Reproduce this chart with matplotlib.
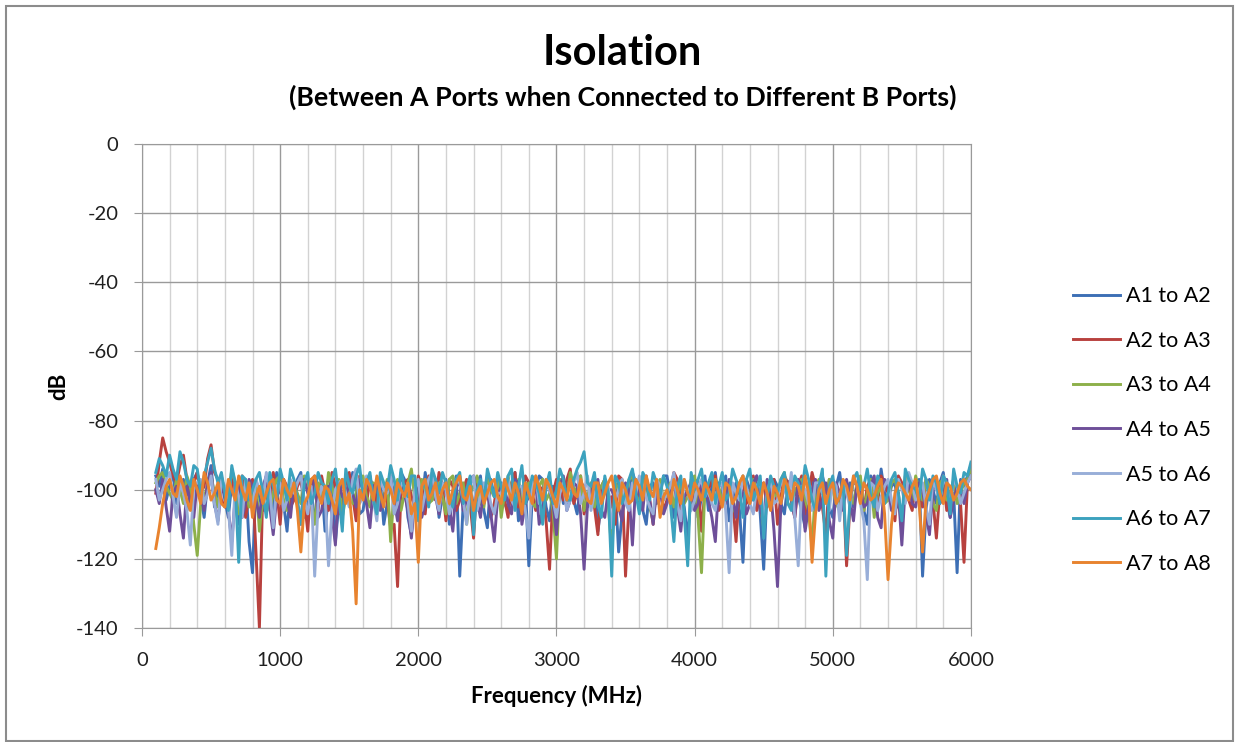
import numpy as np
import matplotlib.pyplot as plt
from matplotlib.patches import Rectangle
from matplotlib.ticker import MultipleLocator

plt.rcParams['font.family'] = ['Lato', 'DejaVu Sans']
plt.rcParams['axes.unicode_minus'] = False

# frequency sweep, MHz (100 .. 6000, 25 MHz step)
freq = np.arange(100, 6001, 25)

# isolation traces, dB
# main samples at 100, 150, ... 6000 MHz
a1_a2 = [-96, -94, -99, -104, -97, -101, -95, -108, -93, -100,
         -103, -98, -110, -97, -124, -102, -96, -106, -99, -112,
         -100, -95, -104, -109, -98, -101, -115, -97, -103, -99,
         -106, -96, -101, -110, -98, -104, -97, -113, -100, -95,
         -103, -108, -97, -101, -125, -99, -105, -96, -111, -102,
         -98, -106, -95, -103, -122, -100, -97, -109, -101, -104,
         -96, -107, -99, -102, -112, -97, -105, -118, -100, -95,
         -103, -110, -98, -101, -96, -108, -100, -114, -97, -102,
         -106, -95, -101, -109, -98, -121, -100, -96, -123, -104,
         -99, -107, -97, -102, -111, -96, -104, -100, -108, -95,
         -101, -105, -97, -110, -99, -94, -103, -98, -107, -96,
         -102, -125, -97, -104, -95, -108, -124, -99, -93]
a2_a3 = [-101, -85, -92, -98, -90, -103, -95, -99, -87, -97,
         -105, -96, -100, -108, -97, -140, -102, -95, -110, -99,
         -103, -97, -112, -100, -96, -106, -99, -104, -95, -109,
         -100, -97, -105, -99, -111, -128, -98, -102, -96, -107,
         -101, -95, -109, -99, -103, -97, -114, -100, -96, -104,
         -99, -108, -95, -102, -98, -106, -100, -123, -97, -103,
         -94, -101, -107, -99, -113, -97, -102, -96, -125, -100,
         -105, -97, -110, -99, -103, -95, -108, -101, -97, -112,
         -100, -96, -104, -99, -115, -97, -102, -106, -98, -101,
         -110, -96, -103, -99, -107, -95, -101, -113, -98, -104,
         -122, -97, -102, -99, -106, -96, -101, -109, -98, -103,
         -97, -105, -100, -114, -96, -102, -99, -121, -95]
a3_a4 = [-98, -95, -101, -97, -104, -99, -119, -102, -96, -105,
         -100, -94, -107, -99, -103, -112, -98, -101, -96, -106,
         -99, -104, -97, -110, -100, -95, -103, -108, -98, -101,
         -96, -105, -99, -102, -115, -97, -101, -94, -106, -100,
         -103, -98, -107, -96, -101, -110, -99, -104, -97, -102,
         -108, -96, -100, -103, -98, -105, -97, -101, -120, -99,
         -95, -102, -106, -98, -101, -97, -118, -100, -104, -96,
         -103, -99, -109, -97, -101, -105, -98, -102, -96, -124,
         -100, -97, -104, -99, -107, -96, -102, -100, -111, -98,
         -101, -95, -105, -99, -103, -117, -97, -102, -100, -106,
         -98, -104, -96, -101, -108, -99, -103, -97, -112, -100,
         -96, -103, -99, -106, -97, -101, -104, -98, -94]
a4_a5 = [-100, -97, -112, -99, -114, -103, -98, -106, -95, -109,
         -101, -115, -97, -104, -99, -108, -96, -113, -100, -103,
         -98, -110, -101, -96, -106, -99, -116, -102, -97, -105,
         -100, -111, -98, -103, -96, -109, -101, -114, -99, -104,
         -97, -107, -100, -112, -98, -103, -96, -108, -101, -115,
         -99, -104, -97, -110, -102, -98, -106, -100, -113, -96,
         -103, -99, -123, -101, -97, -108, -100, -105, -98, -116,
         -101, -96, -110, -99, -104, -97, -112, -100, -106, -98,
         -103, -115, -99, -97, -108, -101, -104, -96, -110, -100,
         -128, -99, -103, -97, -112, -100, -106, -98, -114, -101,
         -97, -109, -100, -104, -96, -111, -99, -103, -116, -98,
         -105, -100, -113, -97, -102, -108, -99, -104, -96]
a5_a6 = [-97, -100, -95, -108, -101, -116, -98, -104, -96, -110,
         -99, -119, -102, -97, -106, -100, -95, -111, -98, -103,
         -101, -96, -107, -125, -99, -122, -100, -97, -105, -94,
         -102, -98, -109, -100, -96, -104, -99, -112, -97, -101,
         -95, -106, -100, -103, -98, -110, -96, -102, -99, -107,
         -101, -97, -105, -99, -114, -96, -102, -100, -108, -98,
         -103, -95, -101, -106, -99, -97, -111, -100, -104, -98,
         -96, -102, -107, -99, -101, -95, -109, -100, -103, -97,
         -100, -106, -98, -124, -101, -96, -104, -99, -110, -97,
         -103, -99, -95, -122, -100, -106, -98, -102, -97, -109,
         -101, -96, -104, -126, -99, -102, -97, -107, -100, -95,
         -103, -98, -110, -100, -96, -105, -99, -101, -96]
a6_a7 = [-95, -93, -90, -97, -92, -99, -94, -96, -88, -98,
         -101, -93, -121, -97, -100, -95, -108, -99, -94, -103,
         -97, -110, -95, -101, -98, -104, -94, -112, -99, -96,
         -102, -95, -107, -98, -93, -103, -100, -96, -109, -97,
         -94, -101, -98, -105, -95, -100, -113, -97, -94, -102,
         -99, -96, -106, -93, -101, -98, -110, -95, -100, -97,
         -103, -94, -89, -99, -104, -96, -125, -98, -101, -94,
         -107, -97, -95, -102, -99, -115, -96, -122, -100, -94,
         -98, -104, -95, -101, -97, -108, -94, -100, -114, -96,
         -101, -95, -106, -98, -93, -103, -99, -125, -96, -102,
         -119, -97, -100, -94, -105, -98, -101, -95, -109, -97,
         -100, -94, -103, -98, -96, -107, -99, -95, -92]
a7_a8 = [-117, -104, -97, -102, -99, -106, -100, -95, -103, -98,
         -105, -100, -96, -103, -108, -99, -101, -97, -104, -100,
         -98, -118, -102, -96, -104, -100, -107, -97, -101, -133,
         -103, -99, -96, -105, -100, -98, -102, -107, -121, -97,
         -101, -104, -98, -100, -96, -103, -106, -99, -101, -97,
         -104, -100, -98, -107, -101, -96, -103, -99, -105, -100,
         -97, -102, -100, -104, -98, -101, -96, -106, -100, -103,
         -99, -96, -102, -108, -100, -97, -104, -101, -98, -103,
         -100, -97, -105, -99, -102, -96, -104, -100, -98, -106,
         -101, -97, -103, -99, -96, -121, -100, -104, -98, -102,
         -99, -96, -104, -100, -102, -97, -126, -101, -99, -103,
         -97, -118, -100, -96, -104, -99, -101, -97, -100]

# in-between samples at 125, 175, ... 5975 MHz
a1_a2_mid = [-99, -103, -95, -100, -106, -97, -102, -98, -105, -96,
             -108, -101, -104, -115, -98, -106, -101, -95, -104, -99,
             -97, -108, -100, -102, -112, -96, -104, -100, -95, -107,
             -99, -103, -97, -104, -101, -95, -108, -99, -105, -101,
             -97, -102, -110, -96, -104, -101, -98, -106, -97, -100,
             -104, -99, -109, -98, -102, -96, -105, -99, -97, -101,
             -103, -98, -105, -96, -104, -101, -99, -107, -103, -98,
             -106, -99, -104, -96, -102, -99, -105, -101, -108, -96,
             -99, -104, -96, -103, -106, -97, -103, -107, -99, -97,
             -104, -98, -101, -106, -99, -102, -96, -105, -99, -103,
             -98, -100, -106, -96, -104, -101, -99, -105, -100, -103,
             -97, -106, -100, -98, -103, -101, -97, -96]
a2_a3_mid = [-92, -89, -96, -93, -97, -98, -101, -91, -95, -103,
             -98, -104, -96, -102, -118, -99, -104, -100, -97, -105,
             -99, -103, -97, -106, -101, -95, -107, -98, -102, -96,
             -104, -99, -96, -103, -110, -100, -97, -105, -99, -96,
             -103, -99, -97, -106, -100, -104, -98, -102, -108, -97,
             -103, -98, -105, -96, -101, -99, -109, -101, -98, -97,
             -104, -96, -102, -105, -99, -103, -110, -97, -104, -99,
             -96, -103, -98, -106, -101, -97, -102, -104, -98, -100,
             -97, -106, -101, -103, -99, -104, -96, -100, -105, -97,
             -102, -98, -108, -96, -103, -99, -105, -97, -101, -99,
             -104, -99, -106, -97, -103, -98, -104, -96, -101, -106,
             -99, -97, -103, -100, -106, -98, -104, -98]
a3_a4_mid = [-96, -99, -103, -100, -96, -110, -104, -99, -101, -97,
             -103, -98, -100, -105, -97, -102, -106, -97, -103, -99,
             -101, -96, -104, -98, -105, -99, -97, -102, -104, -97,
             -102, -98, -104, -97, -100, -106, -98, -103, -97, -104,
             -99, -102, -97, -104, -98, -101, -96, -105, -100, -97,
             -101, -103, -97, -100, -104, -99, -103, -106, -97, -103,
             -99, -96, -102, -105, -99, -104, -98, -101, -97, -102,
             -97, -105, -99, -103, -98, -101, -104, -97, -108, -99,
             -103, -99, -101, -105, -98, -100, -97, -104, -99, -102,
             -97, -104, -100, -97, -106, -99, -101, -97, -104, -98,
             -102, -98, -106, -97, -101, -104, -98, -101, -96, -103,
             -100, -97, -104, -98, -103, -97, -101, -97]
a4_a5_mid = [-104, -105, -101, -107, -99, -108, -102, -98, -104, -100,
             -106, -102, -108, -97, -103, -99, -105, -102, -97, -108,
             -104, -97, -103, -108, -100, -107, -98, -103, -101, -97,
             -104, -99, -106, -98, -103, -97, -106, -102, -108, -97,
             -102, -98, -105, -99, -106, -97, -103, -99, -107, -102,
             -100, -107, -98, -104, -97, -110, -98, -104, -99, -106,
             -98, -107, -104, -98, -106, -100, -103, -109, -101, -97,
             -106, -103, -100, -107, -99, -105, -102, -98, -104, -101,
             -108, -98, -104, -102, -99, -107, -98, -105, -97, -112,
             -104, -101, -108, -99, -105, -97, -103, -109, -98, -106,
             -103, -98, -105, -99, -108, -97, -106, -101, -99, -104,
             -98, -107, -100, -104, -97, -103, -100, -98]
a5_a6_mid = [-103, -97, -102, -98, -106, -99, -97, -101, -104, -97,
             -105, -98, -108, -101, -97, -103, -100, -99, -106, -97,
             -98, -103, -99, -104, -101, -106, -98, -101, -97, -104,
             -96, -103, -97, -101, -107, -98, -104, -100, -106, -97,
             -102, -98, -107, -97, -103, -99, -106, -98, -104, -101,
             -97, -103, -99, -106, -98, -104, -97, -103, -101, -106,
             -98, -104, -96, -101, -105, -99, -103, -97, -106, -101,
             -99, -105, -97, -103, -99, -104, -97, -106, -99, -102,
             -104, -99, -106, -98, -103, -99, -107, -97, -101, -104,
             -97, -103, -108, -99, -104, -98, -101, -106, -99, -98,
             -105, -99, -109, -98, -106, -99, -103, -97, -104, -98,
             -100, -105, -97, -103, -99, -97, -104, -98]
a6_a7_mid = [-91, -96, -94, -89, -97, -93, -101, -92, -94, -95,
             -106, -98, -96, -103, -97, -101, -95, -103, -98, -94,
             -103, -98, -104, -95, -99, -97, -102, -94, -101, -93,
             -98, -103, -95, -100, -97, -94, -102, -96, -100, -105,
             -97, -95, -102, -97, -104, -96, -100, -104, -98, -95,
             -103, -94, -99, -104, -96, -101, -99, -104, -94, -103,
             -97, -92, -98, -95, -108, -101, -96, -104, -97, -101,
             -95, -103, -98, -96, -104, -99, -107, -95, -97, -102,
             -95, -99, -103, -94, -100, -97, -103, -96, -102, -99,
             -97, -104, -96, -101, -97, -106, -94, -99, -104, -98,
             -103, -95, -99, -102, -96, -104, -97, -101, -94, -99,
             -103, -97, -96, -104, -98, -94, -101, -96]
a7_a8_mid = [-111, -99, -101, -96, -103, -97, -104, -98, -101, -104,
             -97, -103, -100, -98, -102, -104, -98, -103, -97, -102,
             -106, -104, -97, -101, -99, -103, -99, -104, -112, -100,
             -97, -103, -101, -98, -104, -100, -98, -104, -99, -103,
             -98, -100, -104, -98, -102, -99, -101, -104, -98, -102,
             -97, -103, -101, -98, -104, -99, -97, -102, -98, -103,
             -101, -97, -103, -98, -104, -98, -102, -98, -104, -97,
             -103, -100, -97, -102, -104, -100, -97, -103, -100, -98,
             -103, -101, -98, -104, -98, -101, -98, -104, -101, -99,
             -104, -99, -98, -103, -101, -107, -98, -100, -104, -97,
             -103, -99, -98, -103, -99, -107, -110, -98, -101, -99,
             -104, -103, -97, -101, -98, -103, -98, -99]

labels = ['A1 to A2', 'A2 to A3', 'A3 to A4', 'A4 to A5',
          'A5 to A6', 'A6 to A7', 'A7 to A8']
colors = ['#3D6FB5', '#B8413E', '#8DB04A', '#6E4F99',
          '#98AED8', '#3CA2BE', '#E8832F']
main = [a1_a2, a2_a3, a3_a4, a4_a5, a5_a6, a6_a7, a7_a8]
mids = [a1_a2_mid, a2_a3_mid, a3_a4_mid, a4_a5_mid,
        a5_a6_mid, a6_a7_mid, a7_a8_mid]


def merge(a, b):
    out = np.empty(len(a) + len(b))
    out[0::2] = a
    out[1::2] = b
    return out


fig = plt.figure(figsize=(12.4, 7.42), dpi=100)
fig.patches.append(Rectangle((0.005, 0.002), 0.989, 0.99, transform=fig.transFigure,
                             fill=False, edgecolor='#8c8c8c', linewidth=1.5))

ax = fig.add_axes([0.1145, 0.1536, 0.6685, 0.6523])
for a, b, lab, col in zip(main, mids, labels, colors):
    ax.plot(freq, merge(a, b), color=col, linewidth=2.1, label=lab)

ax.set_xlim(0, 6000)
ax.set_ylim(-140, 0)
ax.xaxis.set_major_locator(MultipleLocator(1000))
ax.xaxis.set_minor_locator(MultipleLocator(200))
ax.yaxis.set_major_locator(MultipleLocator(20))
ax.grid(which='major', color='#9a9a9a', linewidth=1.0)
ax.grid(which='minor', axis='x', color='#d2d2d2', linewidth=1.0)
ax.set_axisbelow(True)
for s in ax.spines.values():
    s.set_color('#9a9a9a')
ax.tick_params(which='major', direction='out', length=6, color='#9a9a9a',
               labelsize=14.5, labelcolor='#202020', pad=11)
ax.tick_params(which='minor', length=0)

ax.set_xlabel('Frequency (MHz)', fontsize=16, fontweight='bold', labelpad=12)
ax.set_ylabel('dB', fontsize=16, fontweight='bold', labelpad=5)

fig.text(0.502, 0.929, 'Isolation', ha='center', va='center',
         fontsize=30, fontweight='bold')
fig.text(0.502, 0.869, '(Between A Ports when Connected to Different B Ports)',
         ha='center', va='center', fontsize=19.3, fontweight='bold')

fig.legend(loc='center left', bbox_to_anchor=(0.8565, 0.4205), frameon=False,
           fontsize=15.5, handlelength=2.2, handletextpad=0.25, labelspacing=1.14,
           borderpad=0)

fig.savefig('out.png', dpi=100)
